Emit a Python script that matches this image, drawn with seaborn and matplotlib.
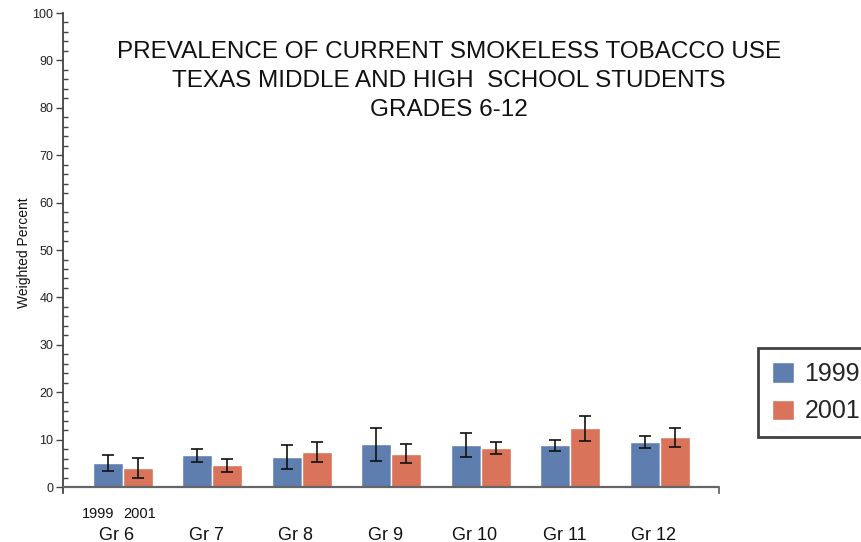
import matplotlib
import matplotlib.pyplot as plt
import matplotlib.transforms as mtransforms
from matplotlib.ticker import MultipleLocator
import pandas as pd
import seaborn as sns

matplotlib.use("Agg")

# Values
grades = ["Gr 6", "Gr 7", "Gr 8", "Gr 9", "Gr 10", "Gr 11", "Gr 12"]
years = ["1999", "2001"]
pct_1999 = [5.0, 6.7, 6.3, 9.0, 8.8, 8.8, 9.5]
err_1999 = [1.7, 1.4, 2.5, 3.4, 2.5, 1.2, 1.35]
pct_2001 = [4.0, 4.6, 7.4, 7.0, 8.2, 12.4, 10.5]
err_2001 = [2.1, 1.4, 2.15, 2.0, 1.2, 2.6, 1.95]

colors = ["#5E7EB0", "#D9735A"]

df = pd.DataFrame({
    "grade": grades * 2,
    "year": [years[0]] * len(grades) + [years[1]] * len(grades),
    "pct": pct_1999 + pct_2001,
})

sns.set_style("white")
plt.rcParams["font.family"] = ["Liberation Sans", "DejaVu Sans"]

fig = plt.figure(figsize=(8.61, 5.42), dpi=100)
ax = fig.add_axes([0.0732, 0.09, 0.7617, 0.886])

sns.barplot(data=df, x="grade", y="pct", hue="year", palette=colors,
            width=0.67, errorbar=None, saturation=1, ax=ax, legend=True)

# error bars at the bar centres seaborn drew
for cont, errs in zip(ax.containers, [err_1999, err_2001]):
    xs = [p.get_x() + p.get_width() / 2 for p in cont.patches]
    hs = [p.get_height() for p in cont.patches]
    ax.errorbar(xs, hs, yerr=errs, fmt="none", ecolor="#111111",
                elinewidth=1.2, capsize=4, capthick=1.2, zorder=3)

ax.set_xlim(-0.67, 6.66)
ax.set_ylim(-1.3, 100)
ax.yaxis.set_major_locator(MultipleLocator(10))
ax.yaxis.set_minor_locator(MultipleLocator(2))
ax.tick_params(axis="y", which="major", direction="out", length=5, width=1,
               color="#444444", labelsize=9, labelcolor="#222222", pad=2, left=True)
ax.tick_params(axis="y", which="minor", direction="in", length=3.5, width=1,
               color="#444444", left=True)
ax.tick_params(axis="x", length=0, pad=24, labelsize=13, labelcolor="#111111")
for lab in ax.get_xticklabels():
    lab.set_transform(lab.get_transform() +
                      mtransforms.ScaledTranslation(-6 / 100, 0, fig.dpi_scale_trans))

for s in ["top", "bottom"]:
    ax.spines[s].set_visible(False)
ax.spines["left"].set_color("#444444")
ax.spines["left"].set_linewidth(1.3)
ax.spines["right"].set_color("#666666")
ax.spines["right"].set_linewidth(1.3)
ax.spines["right"].set_bounds(-1.3, 0)
ax.axhline(0, color="#666666", lw=1.6, zorder=4)

ax.set_xlabel("")
ax.set_ylabel("Weighted Percent", fontsize=10, labelpad=1, color="#111111")

# year labels under the first group
for cont, yr, dx in zip(ax.containers, years, [-7, 1.5]):
    p = cont.patches[0]
    ax.annotate(yr, xy=(p.get_x() + p.get_width() / 2, 0), xycoords="data",
                xytext=(dx, -19.5), textcoords="offset points", ha="center",
                va="center", fontsize=10.5, color="#111111")

fig.text(0.521, 0.850,
         "PREVALENCE OF CURRENT SMOKELESS TOBACCO USE\n"
         "TEXAS MIDDLE AND HIGH  SCHOOL STUDENTS\nGRADES 6-12",
         ha="center", va="center", fontsize=17.5, linespacing=1.40, color="#111111")

leg = ax.legend(loc="upper left", bbox_to_anchor=(758 / 861, 1 - 348 / 542),
                bbox_transform=fig.transFigure, fontsize=18, frameon=True,
                fancybox=False, handlelength=0.9, handleheight=0.9,
                handletextpad=0.4, labelspacing=0.55, borderpad=0.55,
                borderaxespad=0)
leg.get_frame().set_edgecolor("#111111")
leg.get_frame().set_linewidth(2)

plt.savefig("out.png", dpi=100)
